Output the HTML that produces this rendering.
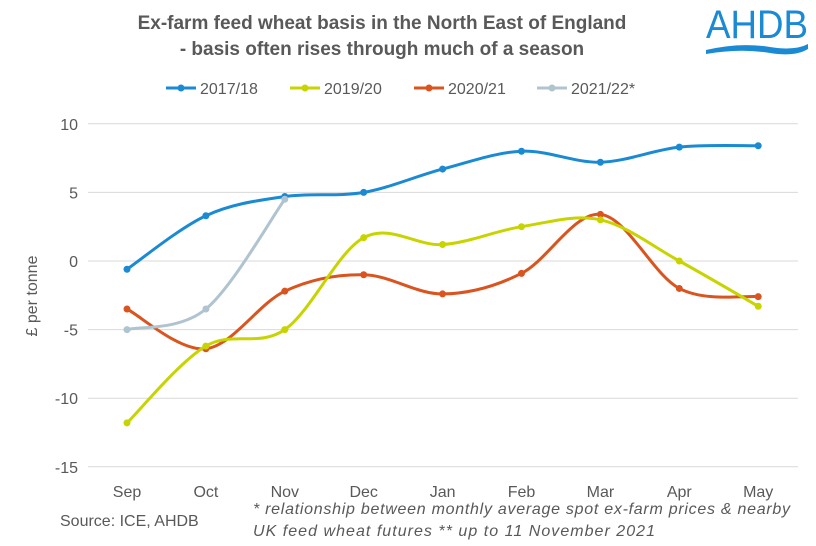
<!DOCTYPE html>
<html><head><meta charset="utf-8"><style>
body{margin:0;background:#fff;}
svg{display:block;font-family:"Liberation Sans",Arial,sans-serif;}
</style></head><body>
<svg id="c" width="816" height="546" viewBox="0 0 816 546">
<text x="382" y="29" text-anchor="middle" font-size="19" font-weight="bold" fill="#595959">Ex-farm feed wheat basis in the North East of England</text>
<text x="382" y="55" text-anchor="middle" font-size="19" font-weight="bold" fill="#595959">- basis often rises through much of a season</text>
<text x="706" y="38" font-size="40" fill="#1a8ad4" textLength="102" lengthAdjust="spacingAndGlyphs">AHDB</text>
<path d="M706 50 Q740 42 770 47 Q795 51 808 44 L808 49 Q795 57 770 53 Q740 48 706 54 Z" fill="#1a8ad4"/>
<g font-size="16" fill="#595959">
<line x1="166" y1="88" x2="196" y2="88" stroke="#1a8ad4" stroke-width="3"/><circle cx="181" cy="88" r="3.5" fill="#1a8ad4"/><text x="200" y="94">2017/18</text>
<line x1="290" y1="88" x2="320" y2="88" stroke="#c8d400" stroke-width="3"/><circle cx="305" cy="88" r="3.5" fill="#c8d400"/><text x="324" y="94">2019/20</text>
<line x1="414" y1="88" x2="444" y2="88" stroke="#d9541e" stroke-width="3"/><circle cx="429" cy="88" r="3.5" fill="#d9541e"/><text x="448" y="94">2020/21</text>
<line x1="537" y1="88" x2="567" y2="88" stroke="#b0c4cf" stroke-width="3"/><circle cx="552" cy="88" r="3.5" fill="#b0c4cf"/><text x="571" y="94">2021/22*</text>
</g>
<g id="grid" stroke="#d9d9d9" stroke-width="1"></g>
<g id="yl" font-size="16" fill="#595959" text-anchor="end"></g>
<g id="xl" font-size="16" fill="#595959" text-anchor="middle"></g>
<text transform="translate(37,296) rotate(-90)" text-anchor="middle" font-size="16" fill="#595959">£ per tonne</text>
<g id="series"></g>
<text x="60" y="526" font-size="16" fill="#595959">Source: ICE, AHDB</text>
<text x="253" y="514" font-size="16" font-style="italic" fill="#595959" textLength="537" lengthAdjust="spacing">* relationship between monthly average spot ex-farm prices &amp; nearby</text>
<text x="253" y="536" font-size="16" font-style="italic" fill="#595959" textLength="402" lengthAdjust="spacing">UK feed wheat futures    ** up to 11 November 2021</text>
</svg>
<script>
var NS="http://www.w3.org/2000/svg";
function Y(v){return 261-v*13.72;}
function X(i){return 127+i*78.9;}
function el(t,a,p){var e=document.createElementNS(NS,t);for(var k in a)e.setAttribute(k,a[k]);document.getElementById(p).appendChild(e);return e;}
for(var v=10;v>=-15;v-=5){el("line",{x1:88,x2:798,y1:Y(v),y2:Y(v)},"grid");el("text",{x:78,y:Y(v)+6},"yl").textContent=v;}
var m=["Sep","Oct","Nov","Dec","Jan","Feb","Mar","Apr","May"];
m.forEach(function(s,i){el("text",{x:X(i),y:497},"xl").textContent=s;});
var S=[["#d9541e",[-3.5,-6.4,-2.2,-1.0,-2.4,-0.9,3.4,-2.0,-2.6]],["#c8d400",[-11.8,-6.2,-5.0,1.7,1.2,2.5,3.0,0.0,-3.3]],["#1a8ad4",[-0.6,3.3,4.7,5.0,6.7,8.0,7.2,8.3,8.4]],["#b0c4cf",[-5.0,-3.5,4.5]]];
S.forEach(function(s){var d=s[1],p=d.map(function(v,i){return [X(i),Y(v)];});var str="M"+p[0];
for(var i=0;i<p.length-1;i++){var p0=p[i-1]||p[i],p1=p[i],p2=p[i+1],p3=p[i+2]||p2,t=6;
str+=" C"+(p1[0]+(p2[0]-p0[0])/t)+","+(p1[1]+(p2[1]-p0[1])/t)+" "+(p2[0]-(p3[0]-p1[0])/t)+","+(p2[1]-(p3[1]-p1[1])/t)+" "+p2[0]+","+p2[1];}
el("path",{d:str,fill:"none",stroke:s[0],"stroke-width":3},"series");
p.forEach(function(q){el("circle",{cx:q[0],cy:q[1],r:3.5,fill:s[0]},"series");});});
</script>
</body></html>
